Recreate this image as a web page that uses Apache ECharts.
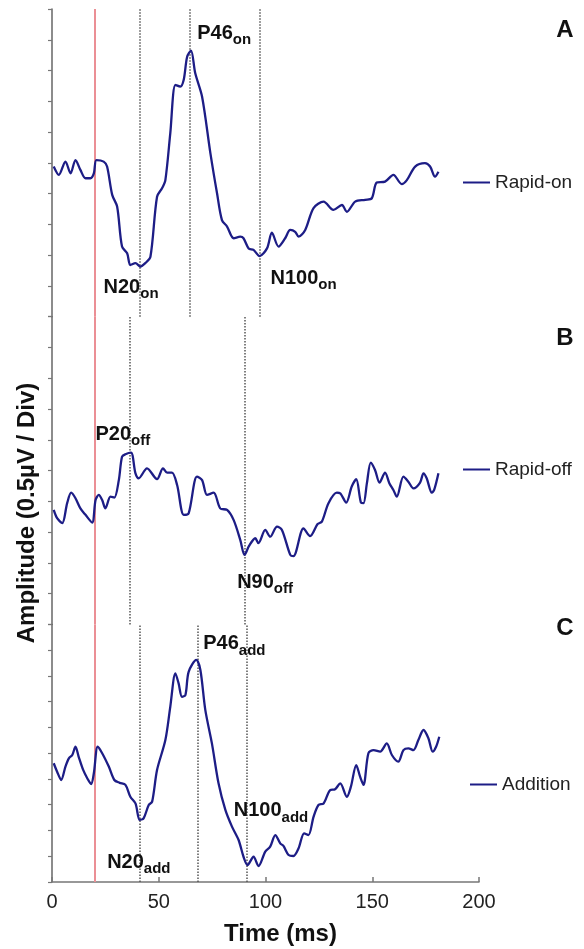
<!DOCTYPE html>
<html>
<head>
<meta charset="utf-8">
<script src="https://cdn.jsdelivr.net/npm/echarts@6/dist/echarts.min.js"></script>
<style>
  html, body { margin: 0; padding: 0; background: #fff; }
  #chart { width: 584px; height: 949px; }
</style>
</head>
<body>
<div id="chart"></div>
<script>
// [time (ms), amplitude (Div)]
const rapidOn = [
  [0.8, 4.88], [3.2, 4.61], [6.3, 5.04], [8.7, 4.66], [11, 5.09], [13.3, 4.77], [15.7, 4.5], [18, 4.5],
  [19.6, 4.66], [20.8, 5.09], [24.2, 5.04], [25.8, 4.88], [28.2, 3.96], [30.5, 3.58], [32.8, 2.28],
  [35.2, 2.06], [36.7, 1.68], [39.1, 1.74], [41.4, 1.63], [43.7, 1.74], [46.1, 1.95], [49.2, 3.9],
  [51.6, 4.18], [53.1, 4.44], [55.4, 5.96], [57.8, 7.53], [60.1, 7.48], [61.7, 7.7], [63.3, 8.45],
  [65.1, 8.65], [67.1, 7.91], [70.3, 7.15], [74.2, 5.31], [77.3, 4.01], [79.6, 3.14], [82, 2.93],
  [85.1, 2.55], [88.2, 2.6], [89.7, 2.55], [92.1, 2.22], [94.4, 2.17], [97.2, 1.97], [100.7, 2.22],
  [103, 2.73], [106.1, 2.28], [109.2, 2.55], [111.6, 2.82], [113.9, 2.76], [115.5, 2.6], [118.6, 2.82],
  [122.5, 3.53], [127.2, 3.74], [131.8, 3.47], [135.8, 3.63], [138.1, 3.41], [142, 3.74], [146.7, 3.8],
  [149.8, 3.85], [152.1, 4.36], [156, 4.39], [159.9, 4.61], [163.8, 4.31], [166.2, 4.44], [170.1, 4.88],
  [174.7, 4.99], [177.1, 4.88], [179.4, 4.55], [181, 4.71]
];
const rapidOff = [
  [0.8, 3.72], [2.4, 3.45], [4.8, 3.29], [7.1, 3.94], [9, 4.28], [11, 4.1], [13.3, 3.77], [15.7, 3.56],
  [18.8, 3.31], [20.4, 4.04], [21.9, 4.21], [23.5, 4.04], [25, 3.77], [27.4, 4.15], [29.2, 4.12],
  [31.3, 4.69], [32.8, 5.45], [34.4, 5.53], [37, 5.58], [39.1, 4.91], [40.6, 4.75], [44.5, 5.07],
  [49.2, 4.72], [52, 5.07], [53.9, 4.93], [56.2, 4.93], [58.6, 4.53], [61.7, 3.56], [64, 3.61],
  [67.9, 4.8], [70.3, 4.69], [72.6, 4.21], [75.7, 4.28], [78.8, 3.77], [82, 3.72], [85.1, 3.39],
  [88.2, 2.74], [90.2, 2.26], [92.3, 2.55], [95.2, 2.8], [96.7, 2.64], [99.9, 3.07], [102.2, 2.85],
  [105.4, 3.18], [107.7, 3.07], [111.6, 2.26], [113.1, 2.22], [117.8, 3.12], [120.9, 2.87],
  [124.4, 3.26], [126.4, 3.34], [129.5, 3.94], [133.4, 4.28], [135, 4.26], [137.8, 3.96], [140.4, 4.48],
  [142.5, 4.72], [144.7, 3.96], [145.9, 3.94], [147.5, 4.59], [149.3, 5.26], [151.3, 5.02],
  [153.4, 4.61], [156, 4.93], [158, 4.59], [159.9, 4.37], [161.5, 4.15], [164.6, 4.8], [166.9, 4.64],
  [169.3, 4.42], [172.4, 4.61], [174, 4.91], [175.5, 4.75], [177.9, 4.28], [179, 4.37], [181, 4.91]
];
const addition = [
  [0.8, 4.61], [2.4, 4.28], [4.3, 3.96], [6.3, 4.48], [7.9, 4.8], [9.5, 4.93], [11, 5.25], [12.5, 4.86],
  [14.6, 4.35], [16.5, 4.03], [18.3, 3.8], [19.6, 4.22], [21.4, 5.25], [23.5, 5], [26.6, 4.48],
  [29.2, 3.96], [31.7, 3.85], [34.4, 3.77], [36.7, 3.31], [39.1, 3.05], [41.1, 2.41], [42.9, 2.47],
  [45.3, 2.99], [46.9, 3.12], [49.2, 4.35], [53.1, 5.51], [55.4, 6.8], [57.8, 8.1], [59.3, 7.71],
  [60.9, 7.19], [62.5, 7.26], [64, 8.16], [67.6, 8.62], [69.5, 8.23], [71.8, 6.68], [74.9, 5.38],
  [78, 3.83], [81.2, 2.8], [84.3, 2.15], [87.4, 1.63], [89.7, 0.98], [91.6, 0.66], [94.4, 0.98],
  [96.7, 0.62], [99.9, 1.18], [102.2, 1.37], [104.6, 1.82], [106.9, 1.5], [108.4, 1.4], [110.8, 1.05],
  [113.1, 1.01], [115.5, 1.31], [118.1, 1.89], [120.1, 1.82], [122.5, 2.53], [124.8, 2.99],
  [127.2, 3.05], [130.3, 3.57], [132.6, 3.6], [135, 3.83], [138.1, 3.31], [140, 3.7], [142.5, 4.54],
  [144.3, 4.09], [145.9, 3.77], [148.2, 5], [150.6, 5.12], [153.7, 5.06], [156.8, 5.38], [159.2, 4.93],
  [162.2, 4.67], [164.6, 5.12], [166.9, 5.19], [169.3, 5.12], [171.6, 5.51], [174, 5.9], [176.3, 5.58],
  [178.3, 5.06], [179.9, 5.25], [181.4, 5.64]
];

const stimulusTime = 20;
const peakLinesOn = [41.2, 64.6, 97.1];
const peakLinesOff = [36.5, 90.4];
const peakLinesAdd = [41, 68.1, 91.3];

// [name, subscript, time, amplitude] of each peak label
const peakLabelsOn = [['N20', 'on', 23.9, 0.95], ['P46', 'on', 67.8, 9.21], ['N100', 'on', 102.1, 1.25]];
const peakLabelsOff = [['P20', 'off', 20.1, 6.16], ['N90', 'off', 86.5, 1.36]];
const peakLabelsAdd = [['N20', 'add', 25.6, 0.76], ['P46', 'add', 70.6, 9.24], ['N100', 'add', 84.9, 2.76]];

const seriesNames = ['Rapid-on', 'Rapid-off', 'Addition'];
const panelLetters = ['A', 'B', 'C'];
const timeTicks = [0, 50, 100, 150, 200];

const FONT = 'Liberation Sans, Arial, sans-serif';
const LINE = '#1d1d86';

const panels = [
  { data: rapidOn, lines: peakLinesOn, labels: peakLabelsOn, top: 9, height: 307.7, legend: [463, 173], letter: 30 },
  { data: rapidOff, lines: peakLinesOff, labels: peakLabelsOff, top: 316.7, height: 307.7, legend: [463, 460], letter: 338 },
  { data: addition, lines: peakLinesAdd, labels: peakLabelsAdd, top: 624.4, height: 257.6, legend: [470, 775], letter: 628 },
];

const chart = echarts.init(document.getElementById('chart'));

const option = {
  animation: false,
  textStyle: { fontFamily: FONT },
  grid: panels.map((p) => ({ left: 52, width: 427, top: p.top, height: p.height })),
  xAxis: panels.map((p, i) => {
    const last = i === panels.length - 1;
    return {
      type: 'value',
      gridIndex: i,
      min: timeTicks[0],
      max: timeTicks[timeTicks.length - 1],
      interval: 50,
      show: last,
      splitLine: { show: false },
      axisLine: { lineStyle: { color: '#777', width: 1.5 } },
      axisTick: { inside: true, length: 5, lineStyle: { color: '#777', width: 1.5 } },
      axisLabel: { fontSize: 20, color: '#222', margin: 10 },
      name: last ? 'Time (ms)' : '',
      nameLocation: 'middle',
      nameGap: 40,
      nameTextStyle: { fontSize: 24, fontWeight: 'bold', color: '#111', padding: [0, 0, 0, 30] },
    };
  }),
  yAxis: panels.map((p, i) => ({
    type: 'value',
    gridIndex: i,
    min: 0,
    max: 10,
    interval: 1,
    splitLine: { show: false },
    axisLine: { show: true, lineStyle: { color: '#666', width: 1.5 } },
    axisTick: { show: true, length: 4, lineStyle: { color: '#777', width: 1.2 } },
    axisLabel: { show: false },
  })),
  legend: panels.map((p, i) => ({
    data: [{ name: seriesNames[i], icon: 'rect' }],
    left: p.legend[0],
    top: p.legend[1],
    padding: 0,
    itemWidth: 27,
    itemHeight: 2,
    selectedMode: false,
    textStyle: { fontSize: 19, color: '#222', fontFamily: FONT },
  })),
  series: panels.map((p, i) => ({
    name: seriesNames[i],
    type: 'line',
    xAxisIndex: i,
    yAxisIndex: i,
    data: p.data,
    showSymbol: false,
    symbol: 'none',
    smooth: 0.3,
    lineStyle: { color: LINE, width: 2.3 },
    itemStyle: { color: LINE },
    z: 3,
    markLine: {
      z: 1,
      silent: true,
      symbol: 'none',
      label: { show: false },
      data: [{ xAxis: stimulusTime, lineStyle: { color: '#eb8f95', type: 'solid', width: 2 } }].concat(
        p.lines.map((t) => ({ xAxis: t, lineStyle: { color: '#555', type: 'dotted', width: 1.5 } }))
      ),
    },
    markPoint: {
      silent: true,
      symbol: 'rect',
      symbolSize: 1,
      itemStyle: { color: 'rgba(0,0,0,0)' },
      label: {
        show: true,
        position: 'right',
        distance: 0,
        rich: {
          b: { fontSize: 20, fontWeight: 'bold', color: '#111', lineHeight: 28, fontFamily: FONT },
          s: { fontSize: 15, fontWeight: 'bold', color: '#111', lineHeight: 16, verticalAlign: 'bottom', fontFamily: FONT },
        },
      },
      data: p.labels.map((l) => ({
        coord: [l[2], l[3]],
        label: { formatter: `{b|${l[0]}}{s|${l[1]}}` },
      })),
    },
  })),
  graphic: panels.map((p, i) => ({
    type: 'text',
    x: 565,
    y: p.letter,
    style: {
      text: panelLetters[i], font: `bold 24px ${FONT}`, fill: '#111',
      align: 'center', verticalAlign: 'middle', textAlign: 'center', textVerticalAlign: 'middle',
    },
  })).concat([{
    type: 'text',
    x: 27,
    y: 513,
    rotation: Math.PI / 2,
    style: {
      text: 'Amplitude (0.5µV / Div)', font: `bold 24px ${FONT}`, fill: '#111',
      align: 'center', verticalAlign: 'middle', textAlign: 'center', textVerticalAlign: 'middle',
    },
  }]),
};

chart.setOption(option);
</script>
</body>
</html>
